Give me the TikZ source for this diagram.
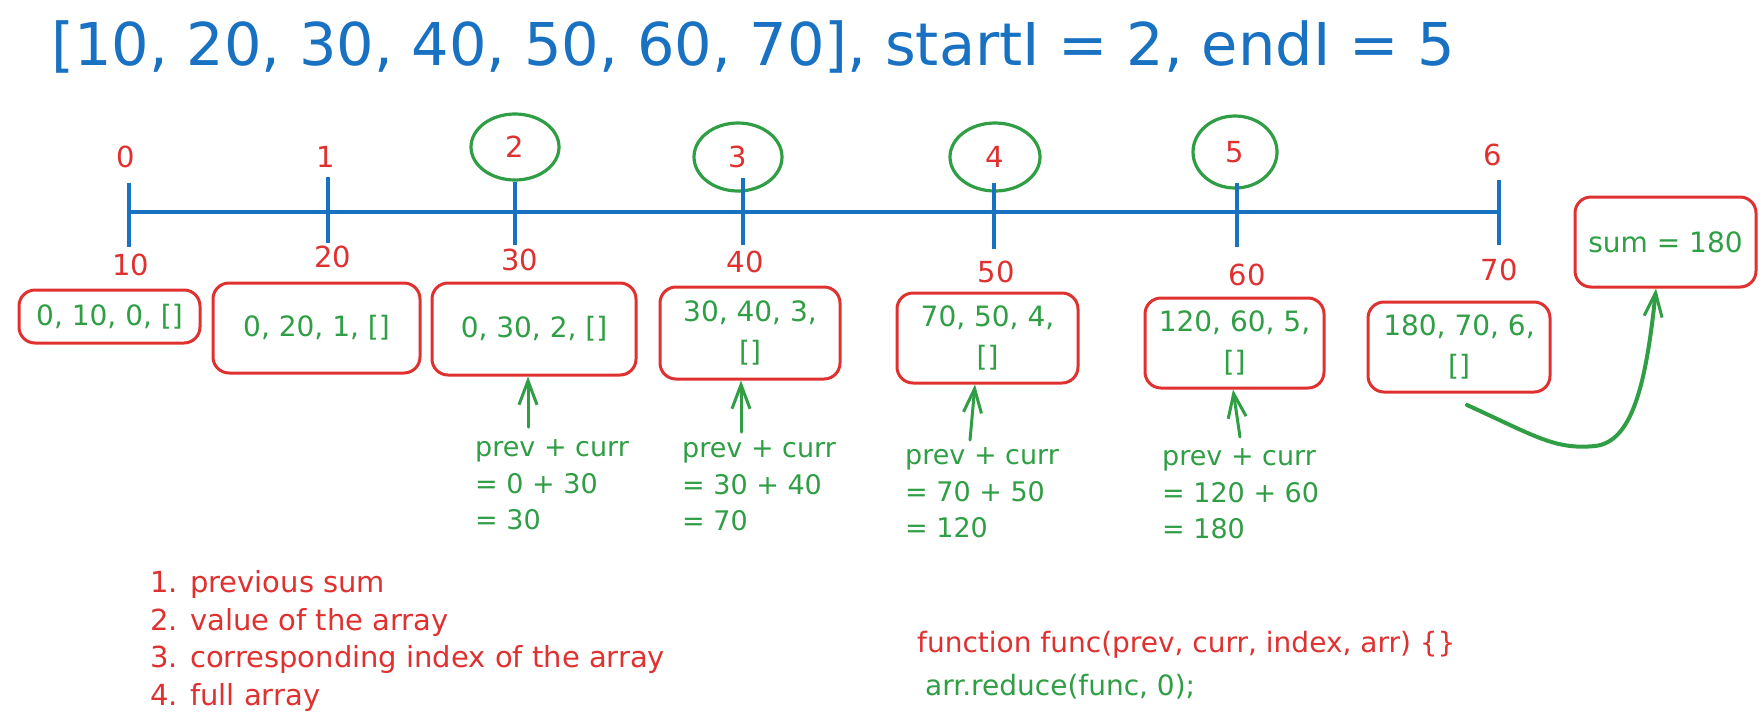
\documentclass[tikz,border=0pt]{standalone}
\usepackage{fontspec}
\setmainfont{DejaVu Sans}
\usetikzlibrary{arrows.meta,shapes.geometric}
\definecolor{xblue}{HTML}{1971C2}
\definecolor{xred}{HTML}{E03131}
\definecolor{xgreen}{HTML}{2F9E44}
\begin{document}
\begin{tikzpicture}[x=1pt,y=-1pt,
  sbox/.style={draw=xred, line width=3pt, rounded corners=16pt, text=xgreen, align=center, inner sep=0pt, font=\fontsize{28}{40}\selectfont},
  idx/.style={text=xred, inner sep=0pt, font=\fontsize{29}{32}\selectfont},
  val/.style={text=xred, inner sep=0pt, font=\fontsize{29}{32}\selectfont},
  ring/.style={ellipse, draw=xgreen, line width=3.2pt, text=xred, inner sep=0pt, font=\fontsize{29}{32}\selectfont},
  numtick/.style={draw=xblue, line width=3.4pt},
  calctext/.style={text=xgreen, align=left, anchor=west, inner sep=0pt, font=\fontsize{27}{36.5}\selectfont},
  garrow/.style={draw=xgreen, line width=3pt, line cap=round, -{Straight Barb[length=24pt,width=18pt,line width=3pt]}}
]
\useasboundingbox[fill=white] (0,0) rectangle (1764,721);

% title
\node[anchor=base west, inner sep=0pt, text=xblue, font=\fontsize{59}{70}\selectfont] (title) at (51,65) {[10, 20, 30, 40, 50, 60, 70], startI = 2, endI = 5};

% number line
\coordinate (L) at (129,212);
\coordinate (R) at (1499,212);
\draw[numtick] (L) -- (R);

% index labels and circles
\node[idx] (i0) at (126,157) {0};
\node[idx] (i1) at (326,157) {1};
\node[ring, minimum width=88pt, minimum height=66pt] (c2) at (515,147) {2};
\node[ring, minimum width=88pt, minimum height=68pt] (c3) at (738,157) {3};
\node[ring, minimum width=90pt, minimum height=68pt] (c4) at (995,157) {4};
\node[ring, minimum width=84pt, minimum height=72pt] (c5) at (1235,152) {5};
\node[idx] (i6) at (1493,155) {6};

% ticks
\draw[numtick] (129,183) -- (129,247);
\draw[numtick] (328,177) -- (328,243);
\draw[numtick] (c2.south) -- (515,245);
\draw[numtick] (743,178) -- (743,245);
\draw[numtick] (994,183) -- (994,249);
\draw[numtick] (1237,183) -- (1237,247);
\draw[numtick] (1499,180) -- (1499,245);

% values
\node[val] (v0) at (131,265) {10};
\node[val] (v1) at (333,257) {20};
\node[val] (v2) at (520,260) {30};
\node[val] (v3) at (745,262) {40};
\node[val] (v4) at (996,272) {50};
\node[val] (v5) at (1247,275) {60};
\node[val] (v6) at (1499,270) {70};

% boxes
\node[sbox, minimum width=181pt, minimum height=53pt] (b0) at (109.5,316.5) {0, 10, 0, {[]}};
\node[sbox, minimum width=207pt, minimum height=90pt] (b1) at (316.5,328) {0, 20, 1, {[]}};
\node[sbox, minimum width=204pt, minimum height=92pt] (b2) at (534,329) {0, 30, 2, {[]}};
\node[sbox, minimum width=180pt, minimum height=92pt] (b3) at (750,333) {30, 40, 3,\\{[]}};
\node[sbox, minimum width=181pt, minimum height=90pt] (b4) at (987.5,338) {70, 50, 4,\\{[]}};
\node[sbox, minimum width=179pt, minimum height=90pt] (b5) at (1234.5,343) {120, 60, 5,\\{[]}};
\node[sbox, minimum width=182pt, minimum height=90pt] (b6) at (1459,347) {180, 70, 6,\\{[]}};
\node[sbox, minimum width=181pt, minimum height=90pt] (sum) at (1665.5,242) {sum = 180};

% calculations
\node[calctext] (k2) at (475,485) {prev + curr\\= 0 + 30\\= 30};
\node[calctext] (k3) at (682,486) {prev + curr\\= 30 + 40\\= 70};
\node[calctext] (k4) at (905,493) {prev + curr\\= 70 + 50\\= 120};
\node[calctext] (k5) at (1162,494) {prev + curr\\= 120 + 60\\= 180};

% arrows
\coordinate (s2) at (528,427);
\coordinate (s3) at (741,432);
\coordinate (s4) at (970,440);
\coordinate (s5) at (1240,437);
\draw[garrow] (s2) -- (b2.south -| s2);
\draw[garrow] (s3) -- (b3.south -| s3);
\draw[garrow] (s4) -- ([xshift=-12.5pt]b4.south);
\draw[garrow] (s5) -- ([xshift=-1.5pt]b5.south);
\coordinate (cs) at (1467,405);
\draw[garrow, line width=4pt] (cs) .. controls (1535,436) and (1555,450) .. (1595,446) .. controls (1632,442) and (1646,385) .. ([xshift=-9.5pt]sum.south);

% notes
\node[text=xred, align=left, anchor=west, inner sep=0pt, font=\fontsize{29}{37.5}\selectfont] (list) at (150,641) {1. previous sum\\2. value of the array\\3. corresponding index of the array\\4. full array};
\node[text=xred, anchor=west, inner sep=0pt, font=\fontsize{28}{34}\selectfont] (code1) at (917,645) {function func(prev, curr, index, arr) \{\}};
\node[text=xgreen, anchor=west, inner sep=0pt, font=\fontsize{28}{34}\selectfont] (code2) at (925,687) {arr.reduce(func, 0);};
\end{tikzpicture}
\end{document}
